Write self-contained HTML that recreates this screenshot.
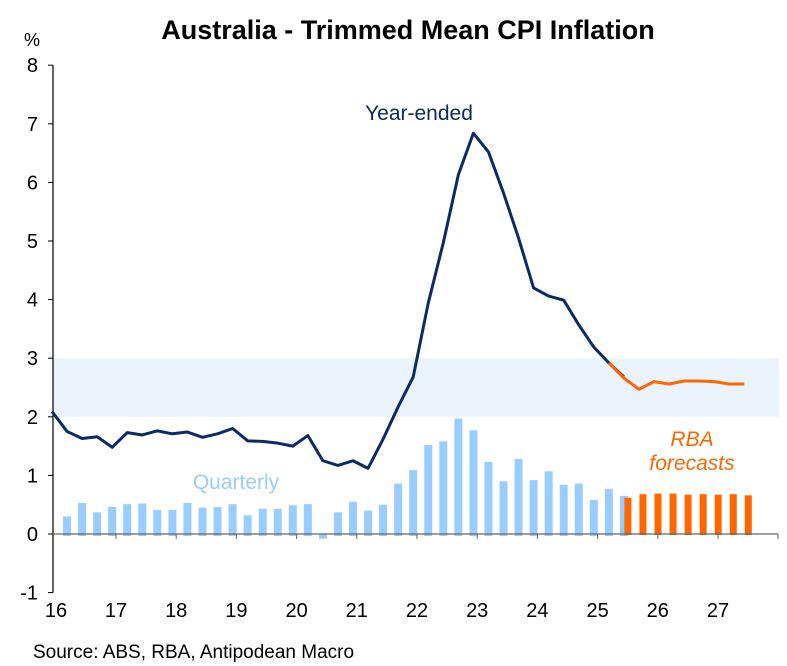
<!DOCTYPE html>
<html><head><meta charset="utf-8">
<style>
body{margin:0;background:#fff;}
svg{display:block;font-family:"Liberation Sans",Arial,sans-serif;}
</style></head>
<body>
<svg id="chart" width="787" height="666" viewBox="0 0 787 666" xmlns="http://www.w3.org/2000/svg">
<text x="408" y="39" text-anchor="middle" font-size="27" font-weight="bold" fill="#000">Australia - Trimmed Mean CPI Inflation</text>
<text x="24" y="46" font-size="18" fill="#000">%</text>
<g id="band"></g>
<g id="bars"></g>
<g id="axes"></g>
<g id="lines"></g>
<text x="419" y="120" text-anchor="middle" font-size="21" fill="#0b2a66">Year-ended</text>
<text x="236" y="489" text-anchor="middle" font-size="21" fill="#99ccff">Quarterly</text>
<text x="692" y="446" text-anchor="middle" font-size="21" font-style="italic" fill="#ff6600">RBA</text>
<text x="692" y="470" text-anchor="middle" font-size="21" font-style="italic" fill="#ff6600">forecasts</text>
<text x="33" y="658" font-size="19" fill="#000">Source: ABS, RBA, Antipodean Macro</text>
</svg>
<script>
// quarter index 0 = Dec 2015
const yearEnded = [2.09,1.75,1.63,1.66,1.48,1.73,1.69,1.76,1.71,1.74,1.65,1.71,1.80,1.59,1.58,1.55,1.50,1.68,1.25,1.17,1.25,1.12,1.62,2.17,2.68,3.94,4.97,6.13,6.84,6.52,5.82,5.05,4.20,4.06,3.99,3.57,3.19,2.92,2.68];
const quarterly = [null,0.30,0.53,0.37,0.46,0.51,0.52,0.41,0.41,0.53,0.45,0.46,0.51,0.32,0.43,0.43,0.49,0.51,-0.08,0.37,0.55,0.40,0.50,0.86,1.09,1.52,1.58,1.97,1.77,1.23,0.90,1.28,0.92,1.07,0.84,0.86,0.58,0.77,0.65];
const forecastStart = 37;
const forecastYearEnded = [2.92,2.66,2.47,2.60,2.56,2.61,2.61,2.60,2.56,2.56];
const forecastBarStart = 38;
const forecastQuarterly = [0.62,0.68,0.69,0.69,0.67,0.68,0.67,0.68,0.66];
const yTicks = [-1,0,1,2,3,4,5,6,7,8];
const yearLabels = ["16","17","18","19","20","21","22","23","24","25","26","27"];
const targetBand = [2,3];

const NS="http://www.w3.org/2000/svg";
const X0=52, QW=15.05, Y0=534, YU=58.6;
const x=i=>X0+QW*i;
const y=v=>Y0-v*YU;
function mk(tag,attrs,parent){const e=document.createElementNS(NS,tag);for(const k in attrs)e.setAttribute(k,attrs[k]);parent.appendChild(e);return e;}
const band=document.getElementById('band'),bars=document.getElementById('bars'),axes=document.getElementById('axes'),lines=document.getElementById('lines');

let b=mk('rect',{x:X0+1,y:y(targetBand[1]),width:778-X0,height:y(targetBand[0])-y(targetBand[1]),fill:'#eaf3fb'},band);



quarterly.forEach((v,i)=>{
  if(v===null)return;
  const top=Math.min(y(v),Y0), h=Math.abs(y(v)-Y0);
  const r=mk('rect',{x:x(i)-4,y:top,width:8,height:Math.max(h,1)+ (v>=0?2:0),fill:'#99ccff'},bars);
  
  
});
forecastQuarterly.forEach((v,k)=>{
  const i=forecastBarStart+k;
  const r=mk('rect',{x:x(i)+0.5,y:y(v),width:7,height:Y0-y(v)+1,fill:'#ff6600'},bars);
  
  
});

let ya=mk('line',{x1:X0+1,y1:y(8),x2:X0+1,y2:y(-1),stroke:'#000','stroke-width':1.2},axes);


yTicks.forEach(t=>{
  mk('line',{x1:X0-4,y1:y(t),x2:X0+1,y2:y(t),stroke:'#000','stroke-width':1},axes);
  const tx=mk('text',{x:38,y:y(t)+7,'text-anchor':'end','font-size':20,fill:'#000'},axes);
  tx.textContent=String(t);
  
  
});
let xa=mk('line',{x1:X0+1,y1:Y0,x2:778,y2:Y0,stroke:'#666','stroke-width':1.2},axes);


yearLabels.forEach((l,k)=>{
  const tx0=116+60.2*(k-1);
  if(k>0) mk('line',{x1:tx0,y1:Y0,x2:tx0,y2:Y0+5,stroke:'#666','stroke-width':1},axes);
  const t=mk('text',{x:k===0?56:tx0,y:617,'text-anchor':'middle','font-size':20,fill:'#000'},axes);
  t.textContent=l;
  
  
});
mk('line',{x1:778,y1:Y0,x2:778,y2:Y0+5,stroke:'#666','stroke-width':1},axes);

const p1=mk('polyline',{points:yearEnded.map((v,i)=>x(i)+','+y(v)).join(' '),fill:'none',stroke:'#0b2a66','stroke-width':3,'stroke-linejoin':'round'},lines);


const p2=mk('polyline',{points:forecastYearEnded.map((v,k)=>x(forecastStart+k)+','+y(v)).join(' '),fill:'none',stroke:'#ff6600','stroke-width':3,'stroke-linejoin':'round'},lines);


</script>
</body></html>
